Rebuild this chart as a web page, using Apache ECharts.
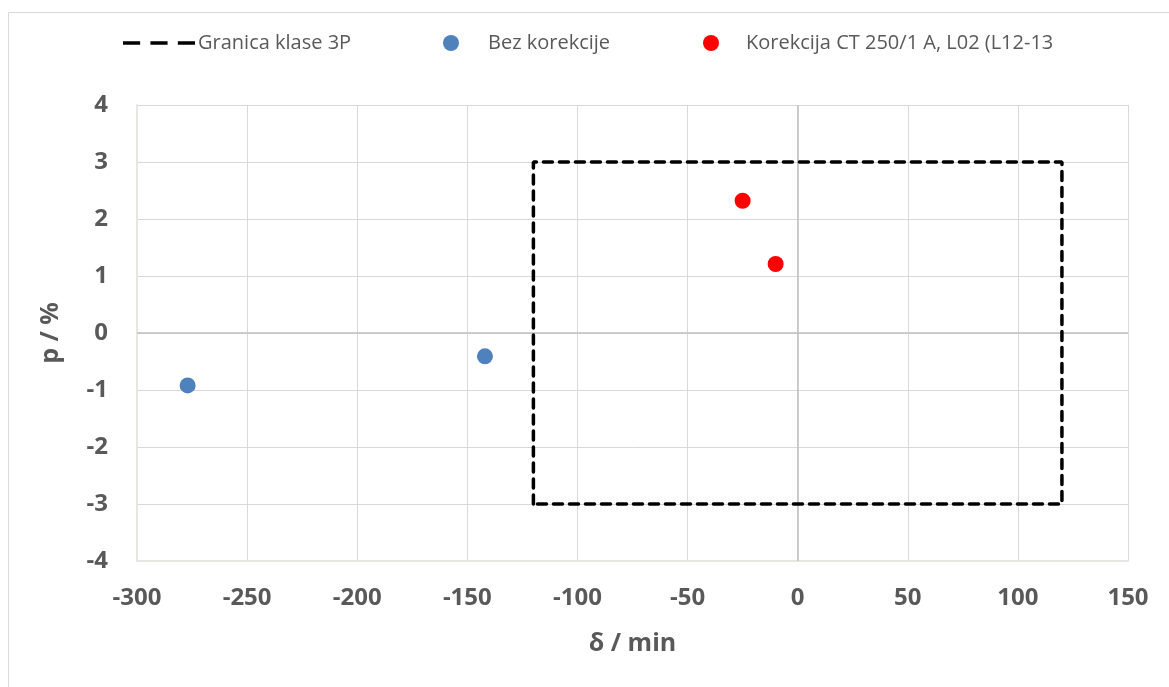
<!DOCTYPE html>
<html>
<head>
<meta charset="utf-8">
<script src="https://cdn.jsdelivr.net/npm/echarts@6/dist/echarts.min.js"></script>
<style>html,body{margin:0;padding:0;background:#fff;}#c{width:1169px;height:687px;}</style>
</head>
<body>
<div id="c"></div>
<script>
var seriesNames = ['Granica klase 3P', 'Bez korekcije', 'Korekcija CT 250/1 A, L02 (L12-13'];
var classBoundary = [[-120, -3], [-120, 3], [120, 3], [120, -3], [-120, -3]];
var bezKorekcije = [[-277, -0.92], [-142, -0.41]];
var korekcija = [[-25, 2.32], [-10, 1.21]];
var xTicks = {min: -300, max: 150, interval: 50};
var yTicks = {min: -4, max: 4, interval: 1};
var xTitle = 'δ / min';
var yTitle = 'p / %';

var FONT = '"Open Sans", Lato, sans-serif';
var chart = echarts.init(document.getElementById('c'), null, {renderer: 'canvas'});
var legendText = {color: '#595959', fontSize: 20, fontFamily: FONT};
chart.setOption({
  animation: false,
  backgroundColor: '#fff',
  graphic: [{
    type: 'rect', shape: {x: 8.5, y: 12.5, width: 1300, height: 800},
    style: {fill: 'none', stroke: '#d9d9d9', lineWidth: 1}, silent: true, z: -10
  }],
  legend: [
    {data: [{name: seriesNames[0], icon: 'path://M0,0 L10,0 L10,2 L0,2 Z M16,0 L26,0 L26,2 L16,2 Z M32,0 L42,0 L42,2 L32,2 Z'}],
     left: 118, top: 28, itemWidth: 72, itemHeight: 5, textStyle: Object.assign({padding: [0, 0, 0, -2]}, legendText)},
    {data: [seriesNames[1]], left: 438, top: 28, itemWidth: 16, itemHeight: 16, textStyle: Object.assign({padding: [0, 0, 0, 24]}, legendText)},
    {data: [seriesNames[2]], left: 698, top: 28, itemWidth: 16, itemHeight: 16, textStyle: Object.assign({padding: [0, 0, 0, 22]}, legendText)}
  ],
  grid: {left: 137, right: 41, top: 105, bottom: 126},
  xAxis: {
    type: 'value', min: xTicks.min, max: xTicks.max, interval: xTicks.interval,
    name: xTitle, nameLocation: 'middle', nameGap: 70,
    nameTextStyle: {color: '#595959', fontSize: 25, fontWeight: 'bold', fontFamily: FONT},
    axisLine: {show: true, onZero: false, lineStyle: {color: '#e8e6e1', width: 2}},
    axisTick: {show: false},
    axisLabel: {color: '#595959', fontSize: 24, fontWeight: 'bold', fontFamily: FONT, margin: 25},
    splitLine: {show: true, lineStyle: {color: '#d9d9d9', width: 1}}
  },
  yAxis: {
    type: 'value', min: yTicks.min, max: yTicks.max, interval: yTicks.interval,
    name: yTitle, nameLocation: 'middle', nameGap: 74, nameRotate: 90,
    nameTextStyle: {color: '#595959', fontSize: 25, fontWeight: 'bold', fontFamily: FONT},
    axisLine: {show: true, onZero: false, lineStyle: {color: '#e8e6e1', width: 2}},
    axisTick: {show: false},
    axisLabel: {color: '#595959', fontSize: 24, fontWeight: 'bold', fontFamily: FONT, margin: 29},
    splitLine: {show: true, lineStyle: {color: '#d9d9d9', width: 1}}
  },
  series: [
    {
      name: seriesNames[0], type: 'line', data: classBoundary, showSymbol: false, symbol: 'none',
      lineStyle: {color: '#000', width: 3.5, type: [9, 7], cap: 'round'},
      itemStyle: {color: '#000'}, z: 5,
      markLine: {
        silent: true, symbol: 'none', label: {show: false},
        lineStyle: {color: '#bfbfbf', width: 1.5, type: 'solid'},
        data: [{xAxis: 0}, {yAxis: 0}], z: 1
      }
    },
    {
      name: seriesNames[1], type: 'scatter', data: bezKorekcije, symbolSize: 16,
      itemStyle: {color: '#4f81bd', opacity: 1}, z: 6
    },
    {
      name: seriesNames[2], type: 'scatter', data: korekcija, symbolSize: 16,
      itemStyle: {color: '#ff0000', opacity: 1}, z: 6
    }
  ]
});
</script>
</body>
</html>
